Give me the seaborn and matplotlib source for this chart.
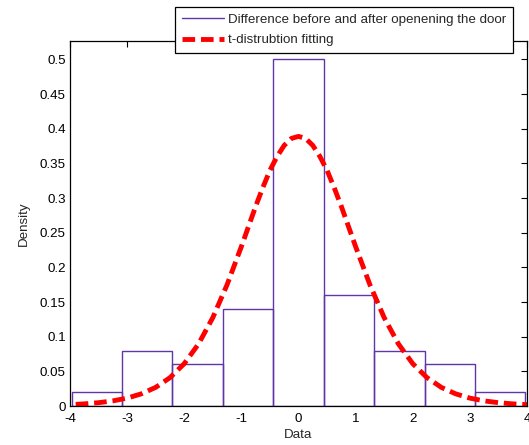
import numpy as np
import matplotlib
matplotlib.use("Agg")
import matplotlib.pyplot as plt
from matplotlib.lines import Line2D
import seaborn as sns

# --- histogram (density per bin) ---
bin_edges = [-3.97, -3.088, -2.206, -1.324, -0.441, 0.441, 1.324, 2.206, 3.088, 3.97]
bin_density = [0.02, 0.08, 0.06, 0.14, 0.50, 0.16, 0.08, 0.06, 0.02]

# --- fitted t-distribution curve ---
fit_x = [-3.9, -3.75, -3.5, -3.25, -3.0, -2.75, -2.5, -2.25, -2.0, -1.75, -1.5,
         -1.25, -1.0, -0.75, -0.625, -0.5, -0.375, -0.25, -0.125, 0.0,
         0.125, 0.25, 0.375, 0.5, 0.625, 0.75, 1.0, 1.25, 1.5, 1.75, 2.0,
         2.25, 2.5, 2.75, 3.0, 3.25, 3.5, 3.75, 4.0]
fit_y = [0.0024, 0.0031, 0.0048, 0.0074, 0.0114, 0.0176, 0.0269, 0.0409, 0.0611, 0.0895, 0.1275,
         0.175, 0.230, 0.288, 0.315, 0.340, 0.360, 0.376, 0.386, 0.389,
         0.386, 0.376, 0.360, 0.340, 0.315, 0.288, 0.230, 0.175, 0.1275, 0.0895, 0.0611,
         0.0409, 0.0269, 0.0176, 0.0114, 0.0074, 0.0048, 0.0031, 0.0020]

x_ticks = [-4, -3, -2, -1, 0, 1, 2, 3, 4]
y_ticks = [0, 0.05, 0.1, 0.15, 0.2, 0.25, 0.3, 0.35, 0.4, 0.45, 0.5]
y_tick_labels = ["0", "0.05", "0.1", "0.15", "0.2", "0.25", "0.3", "0.35", "0.4", "0.45", "0.5"]

hist_label = "Difference before and after openening the door"
fit_label = "t-distrubtion fitting"

PURPLE = "#5f35a8"
RED = "#ff0000"
FS = 9.6

sns.set_style("white")
plt.rcParams["font.family"] = ["Liberation Sans", "DejaVu Sans"]
plt.rcParams["font.size"] = FS

fig = plt.figure(figsize=(5.29, 4.45), dpi=100)
ax = fig.add_axes([0.1323, 0.0876, 0.8639, 0.8209])

centers = [(a + b) / 2 for a, b in zip(bin_edges[:-1], bin_edges[1:])]
sns.histplot(x=centers, weights=bin_density, bins=bin_edges, stat="count",
             fill=False, element="bars", color=PURPLE, linewidth=1.0, ax=ax)

sns.lineplot(x=fit_x, y=fit_y, color=RED, linewidth=3.5, ax=ax,
             sort=False, estimator=None)
ax.lines[-1].set_dashes((2.6, 1.2))

ax.set_xlim(-4, 4)
ax.set_ylim(0, 0.527)
ax.set_xticks(x_ticks)
ax.set_xticklabels([str(t) for t in x_ticks])
ax.set_yticks(y_ticks)
ax.set_yticklabels(y_tick_labels)
ax.tick_params(direction="in", length=4, width=0.8, top=True, right=True,
               labelsize=FS, colors="black", pad=3)
ax.tick_params(axis="x", pad=5)
for s in ax.spines.values():
    s.set_visible(True)
    s.set_color("black")
    s.set_linewidth(0.9)

ax.set_xlabel("Data", fontsize=FS, labelpad=3)
ax.set_ylabel("Density", fontsize=FS, labelpad=7)

handles = [Line2D([], [], color=PURPLE, linewidth=1.0),
           Line2D([], [], color=RED, linewidth=3.5, dashes=(2.6, 1.2))]
leg = fig.legend(handles, [hist_label, fit_label], loc="upper right",
                 bbox_to_anchor=(0.970, 0.984), fontsize=FS, frameon=True,
                 fancybox=False, framealpha=1, edgecolor="black",
                 handlelength=3.2, handletextpad=0.3, labelspacing=0.6,
                 borderpad=0.5, borderaxespad=0)
leg.get_frame().set_linewidth(0.9)

fig.savefig("out.png", dpi=100)
